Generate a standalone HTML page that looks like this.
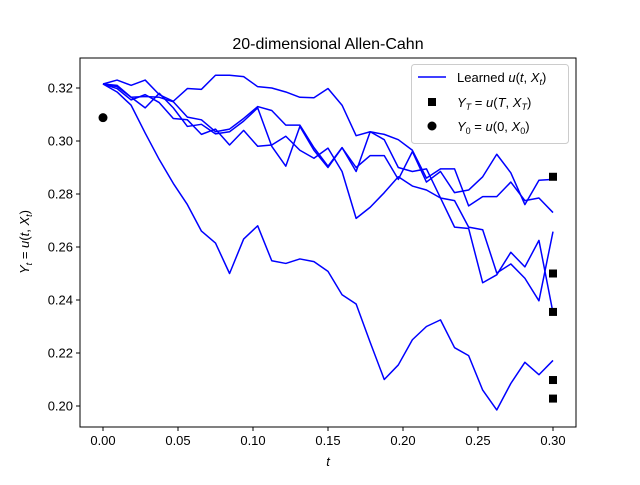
<!DOCTYPE html>
<html><head><meta charset="utf-8"><style>
body{margin:0;background:#fff;}
svg text{font-family:"Liberation Sans","DejaVu Sans",sans-serif;}
</style></head><body>
<svg id="c" width="640" height="480" xmlns="http://www.w3.org/2000/svg"></svg>
<script>
const xTicks=[0.00,0.05,0.10,0.15,0.20,0.25,0.30];
const xTickLabels=["0.00","0.05","0.10","0.15","0.20","0.25","0.30"];
const yTicks=[0.20,0.22,0.24,0.26,0.28,0.30,0.32];
const yTickLabels=["0.20","0.22","0.24","0.26","0.28","0.30","0.32"];
const T=0.3, N=32;
const pathA=[.3215,.3185,.3135,.303,.293,.284,.276,.266,.2615,.250,.263,.268,.2548,.2538,.2555,.2545,.2508,.242,.2385,.224,.210,.2155,.225,.230,.2325,.222,.219,.206,.1985,.2085,.2165,.2118,.2172];
const pathC=[.3215,.323,.321,.323,.3175,.315,.3198,.3195,.3248,.3248,.3243,.3205,.320,.3185,.3165,.3163,.3198,.3135,.302,.3035,.3025,.3005,.2965,.286,.2895,.2895,.2755,.279,.279,.2845,.2775,.2785,.273];
const pathD=[.3215,.321,.3165,.3168,.3165,.3148,.309,.308,.3035,.3045,.3085,.313,.3115,.306,.306,.2975,.2905,.2975,.290,.2945,.2945,.2855,.296,.2845,.2885,.2805,.2815,.2865,.295,.288,.276,.2852,.2855];
const pathE=[.3215,.3205,.3165,.3125,.318,.3125,.3055,.3063,.3027,.3035,.3075,.3125,.298,.2905,.3055,.2965,.290,.2975,.2885,.3035,.3005,.290,.2885,.2895,.2785,.2675,.267,.2465,.2495,.258,.2525,.2625,.2352];
const pathF=[.3215,.3198,.3155,.3175,.3145,.3085,.308,.3025,.3045,.2985,.304,.298,.2985,.3018,.2965,.2935,.2973,.2885,.2708,.275,.2805,.2865,.283,.2815,.2785,.2775,.2675,.2665,.2502,.2536,.2482,.2397,.2658];
const terminalVals=[.2865,.250,.2355,.2098,.2028];
const initVal=.3088;
const paths=[pathA,pathC,pathD,pathE,pathF];

const svg=document.getElementById('c');
const NS="http://www.w3.org/2000/svg";
const L=80,R=576,TOP=58,BOT=427;
const sx=t=>103+(t-0)*1500;
const sy=v=>406-(v-0.20)*(318/0.12);
function mk(tag,attrs,parent){const e=document.createElementNS(NS,tag);for(const k in attrs)e.setAttribute(k,attrs[k]);(parent||svg).appendChild(e);return e;}

const bg=mk('rect',{x:L,y:TOP,width:R-L,height:BOT-TOP,fill:'#fff'});



const series=mk('g',{});


paths.forEach((p,i)=>{
  const pts=p.map((v,k)=>sx(k*T/N).toFixed(2)+','+sy(v).toFixed(2)).join(' ');
  const pl=mk('polyline',{points:pts,fill:'none',stroke:'#0000ff','stroke-width':1.5,'stroke-linejoin':'round'},series);
  
  
});
terminalVals.forEach((v,i)=>{
  const r=mk('rect',{x:sx(T)-4,y:sy(v)-4,width:8,height:8,fill:'#000'});
  
  
});
const c0=mk('circle',{cx:sx(0),cy:sy(initVal),r:4.5,fill:'#000'});



const frame=mk('rect',{x:L,y:TOP,width:R-L,height:BOT-TOP,fill:'none',stroke:'#000','stroke-width':1});



xTicks.forEach((t,i)=>{
  const x=sx(t);
  const tk=mk('line',{x1:x,y1:BOT,x2:x,y2:BOT+4,stroke:'#000'});
  
  
  const tx=mk('text',{x:x,y:BOT+18,'font-size':13,'text-anchor':'middle'});
  tx.textContent=xTickLabels[i];
  
  
});
yTicks.forEach((v,i)=>{
  const y=sy(v);
  const tk=mk('line',{x1:L-4,y1:y,x2:L,y2:y,stroke:'#000'});
  
  
  const tx=mk('text',{x:L-7,y:y+4.5,'font-size':13,'text-anchor':'end'});
  tx.textContent=yTickLabels[i];
  
  
});
</script>
<svg style="position:absolute;left:0;top:0" width="640" height="480" xmlns="http://www.w3.org/2000/svg">
<text x="328" y="49" font-size="16" text-anchor="middle">20-dimensional Allen-Cahn</text>
<text x="328" y="466" font-size="13" text-anchor="middle" font-style="italic">t</text>
<text transform="translate(29,242) rotate(-90)" font-size="13" text-anchor="middle"><tspan font-style="italic">Y</tspan><tspan font-size="9" font-style="italic" dy="3">t</tspan><tspan dy="-3"> = </tspan><tspan font-style="italic">u</tspan>(<tspan font-style="italic">t</tspan>, <tspan font-style="italic">X</tspan><tspan font-size="9" font-style="italic" dy="3">t</tspan><tspan dy="-3">)</tspan></text>
<g>
<rect x="411.5" y="64.5" width="157" height="79" rx="3" fill="#fff" fill-opacity="0.8" stroke="#ccc"/>
<line x1="418" y1="77" x2="446" y2="77" stroke="#0000ff" stroke-width="1.5"/>
<text x="457" y="82" font-size="13">Learned <tspan font-style="italic">u</tspan>(<tspan font-style="italic">t</tspan>, <tspan font-style="italic">X</tspan><tspan font-size="9" font-style="italic" dy="3">t</tspan><tspan dy="-3">)</tspan></text>
<rect x="428" y="98" width="8" height="8" fill="#000"/>
<text x="457" y="107" font-size="13"><tspan font-style="italic">Y</tspan><tspan font-size="9" font-style="italic" dy="3">T</tspan><tspan dy="-3"> = </tspan><tspan font-style="italic">u</tspan>(<tspan font-style="italic">T</tspan>, <tspan font-style="italic">X</tspan><tspan font-size="9" font-style="italic" dy="3">T</tspan><tspan dy="-3">)</tspan></text>
<circle cx="432" cy="126" r="4.5" fill="#000"/>
<text x="457" y="131" font-size="13"><tspan font-style="italic">Y</tspan><tspan font-size="9" dy="3">0</tspan><tspan dy="-3"> = </tspan><tspan font-style="italic">u</tspan>(0, <tspan font-style="italic">X</tspan><tspan font-size="9" dy="3">0</tspan><tspan dy="-3">)</tspan></text>
</g>
</svg>
</body></html>
